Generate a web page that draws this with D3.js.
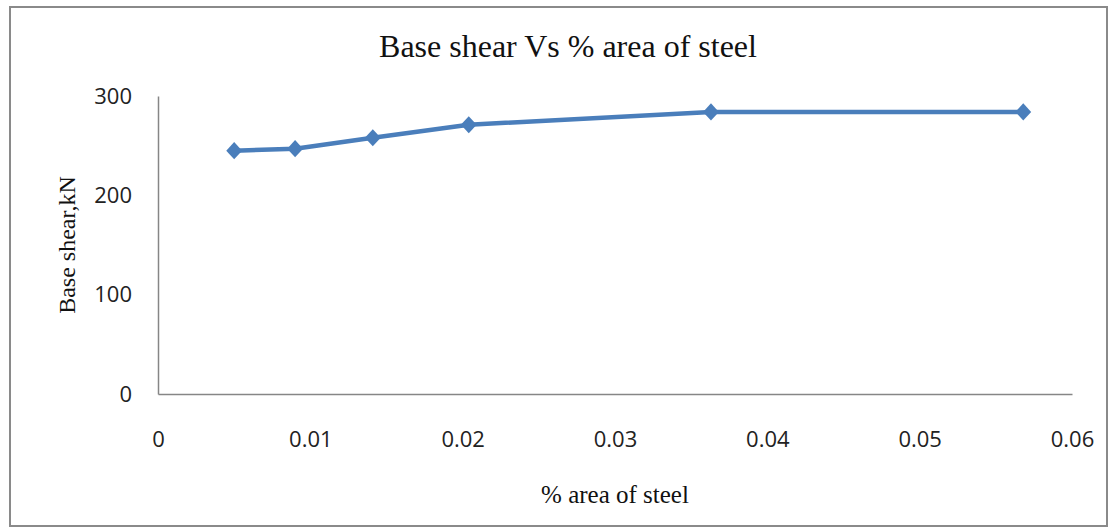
<!DOCTYPE html>
<html>
<head>
<meta charset="utf-8">
<script src="https://cdn.jsdelivr.net/npm/d3@7"></script>
<style>
  html, body { margin: 0; padding: 0; background: #fff; }
  svg { display: block; }
</style>
</head>
<body>
<svg id="chart" width="1118" height="532"></svg>
<script>
// Steel area ratio (%) and the corresponding base shear (kN)
const steelArea = [0.005, 0.009, 0.0141, 0.0204, 0.0363, 0.0568];
const baseShear = [245, 247, 258, 271, 284, 284];
const xTicks = [0, 0.01, 0.02, 0.03, 0.04, 0.05, 0.06];
const yTicks = [0, 100, 200, 300];

const titleText = "Base shear Vs % area of steel";
const xTitle = "% area of steel";
const yTitle = "Base shear,kN";

const svg = d3.select("#chart");
const plot = { left: 158, right: 1072, top: 96, bottom: 394 };

// outer chart frame
svg.append("rect")
  .attr("x", 10).attr("y", 7)
  .attr("width", 1097).attr("height", 519)
  .attr("fill", "#fff")
  .attr("stroke", "#8a8a8a")
  .attr("stroke-width", 2);

const x = d3.scaleLinear().domain([0, 0.06]).range([plot.left, plot.right]);
const y = d3.scaleLinear().domain([0, 300]).range([plot.bottom, plot.top]);

const tickFont = "'Open Sans', 'DejaVu Sans', sans-serif";
const serif = "'Liberation Serif', 'DejaVu Serif', serif";

// x axis
const xAxis = svg.append("g")
  .attr("transform", `translate(0,${plot.bottom})`)
  .call(d3.axisBottom(x).tickValues(xTicks).tickSize(0).tickPadding(37)
        .tickFormat(d => d === 0 ? "0" : d3.format(".2f")(d)));
xAxis.select(".domain").attr("stroke", "#868686").attr("stroke-width", 1.5);
xAxis.selectAll("text")
  .attr("font-family", tickFont).attr("font-size", 22).attr("fill", "#222");

// y axis
const yAxis = svg.append("g")
  .attr("transform", `translate(${plot.left},0)`)
  .call(d3.axisLeft(y).tickValues(yTicks).tickSize(0).tickPadding(26));
yAxis.select(".domain").attr("stroke", "#868686").attr("stroke-width", 1.5);
yAxis.selectAll("text")
  .attr("font-family", tickFont).attr("font-size", 22).attr("fill", "#222");

// series line
const pts = steelArea.map((v, i) => [v, baseShear[i]]);
svg.append("path")
  .datum(pts)
  .attr("fill", "none")
  .attr("stroke", "#4a7ebb")
  .attr("stroke-width", 4.5)
  .attr("stroke-linejoin", "round")
  .attr("d", d3.line().x(d => x(d[0])).y(d => y(d[1])));

// diamond markers
svg.append("g").selectAll("path")
  .data(pts)
  .join("path")
  .attr("transform", d => `translate(${x(d[0])},${y(d[1])}) scale(1,1.08)`)
  .attr("d", d3.symbol().type(d3.symbolDiamond2).size(160))
  .attr("fill", "#4a7ebb");

// titles
svg.append("text")
  .attr("x", 568).attr("y", 57)
  .attr("text-anchor", "middle")
  .attr("font-family", serif).attr("font-size", 32).attr("fill", "#111")
  .text(titleText);

svg.append("text")
  .attr("x", (plot.left + plot.right) / 2).attr("y", 503)
  .attr("text-anchor", "middle")
  .attr("font-family", serif).attr("font-size", 25).attr("fill", "#111")
  .text(xTitle);

svg.append("text")
  .attr("transform", `translate(75,${(plot.top + plot.bottom) / 2}) rotate(-90)`)
  .attr("text-anchor", "middle")
  .attr("font-family", serif).attr("font-size", 24).attr("fill", "#111")
  .text(yTitle);
</script>
</body>
</html>
